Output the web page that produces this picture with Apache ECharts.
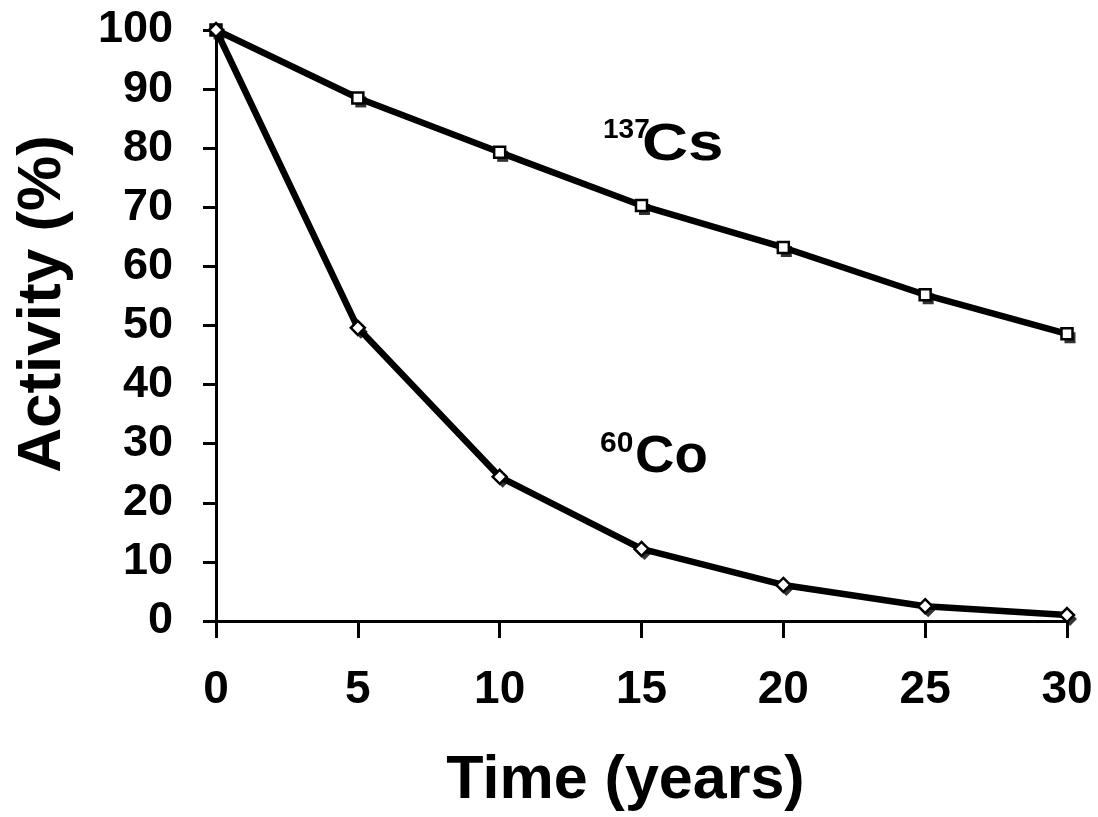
<!DOCTYPE html>
<html>
<head>
<meta charset="UTF-8" />
<title>Activity decay</title>
<script src="https://cdn.jsdelivr.net/npm/echarts@6/dist/echarts.min.js"></script>
<style>
  html, body { margin: 0; padding: 0; background: #fff; }
  #chart { width: 1098px; height: 817px; }
</style>
</head>
<body>
<div id="chart"></div>
<script>
const years = [0, 5, 10, 15, 20, 25, 30];
const cs137 = [100, 88.5, 79.3, 70.3, 63.2, 55.2, 48.6];
const co60 = [100, 49.6, 24.4, 12.2, 6.1, 2.5, 1.0];
const xTicks = ['0', '5', '10', '15', '20', '25', '30'];
const yTicks = ['0', '10', '20', '30', '40', '50', '60', '70', '80', '90', '100'];

const font = '"Liberation Sans", Arial, Helvetica, sans-serif';
const pairs = (vals) => years.map((x, i) => [x, vals[i]]);

// each marker is a white open symbol with a black copy just below-right of it
const markerSeries = (name, vals, symbol, size) => ([
    {
        name: name + ' shadow', type: 'scatter', data: pairs(vals), symbol: symbol,
        symbolSize: size, symbolOffset: [3, 4], z: 3, silent: true,
        itemStyle: { color: '#000' }
    },
    {
        name: name, type: 'line', data: pairs(vals), symbol: symbol, symbolSize: size,
        showSymbol: true, z: 4, silent: true,
        lineStyle: { color: '#000', width: 6.5 },
        itemStyle: { color: '#fff', borderColor: '#000', borderWidth: 2.5 }
    }
]);

const bold = (size) => ({ fontFamily: font, fontWeight: 'bold', fontSize: size, fill: '#000' });

const chart = echarts.init(document.getElementById('chart'));
chart.setOption({
    animation: false,
    backgroundColor: '#fff',
    grid: { left: 216, right: 31, top: 30, bottom: 195 },
    xAxis: {
        type: 'value', min: 0, max: 30, interval: 5,
        name: 'Time (years)', nameLocation: 'middle', nameGap: 130,
        nameTextStyle: { fontFamily: font, fontWeight: 'bold', fontSize: 61, color: '#000', padding: [0, 32, 0, 0] },
        axisLine: { lineStyle: { color: '#000', width: 3 } },
        axisTick: { length: 17, lineStyle: { color: '#000', width: 3 } },
        axisLabel: {
            margin: 46, fontFamily: font, fontWeight: 'bold', fontSize: 46, color: '#000',
            formatter: (v) => xTicks[years.indexOf(v)] ?? ''
        },
        splitLine: { show: false }
    },
    yAxis: {
        type: 'value', min: 0, max: 100, interval: 10,
        axisLine: { show: true, lineStyle: { color: '#000', width: 3 } },
        axisTick: { show: true, length: 13, lineStyle: { color: '#000', width: 3 } },
        axisLabel: {
            margin: 43, fontFamily: font, fontWeight: 'bold', fontSize: 45, color: '#000',
            formatter: (v) => yTicks[v / 10] ?? ''
        },
        splitLine: { show: false }
    },
    graphic: [
        // y axis title, rotated to read bottom to top
        { type: 'text', x: 43, y: 304, rotation: Math.PI / 2,
          style: Object.assign(bold(62), { text: 'Activity (%)', align: 'center', verticalAlign: 'middle' }) },
        { type: 'text', x: 603, y: 116, style: Object.assign(bold(28), { text: '137' }) },
        { type: 'text', x: 642, y: 120, scaleX: 1.25, style: Object.assign(bold(51), { text: 'Cs' }) },
        { type: 'text', x: 600, y: 429, style: Object.assign(bold(30), { text: '60' }) },
        { type: 'text', x: 635, y: 432, scaleX: 1.07, style: Object.assign(bold(51), { text: 'Co' }) }
    ],
    series: [
        ...markerSeries('137Cs', cs137, 'rect', 11),
        ...markerSeries('60Co', co60, 'diamond', 14)
    ]
});
</script>
</body>
</html>
